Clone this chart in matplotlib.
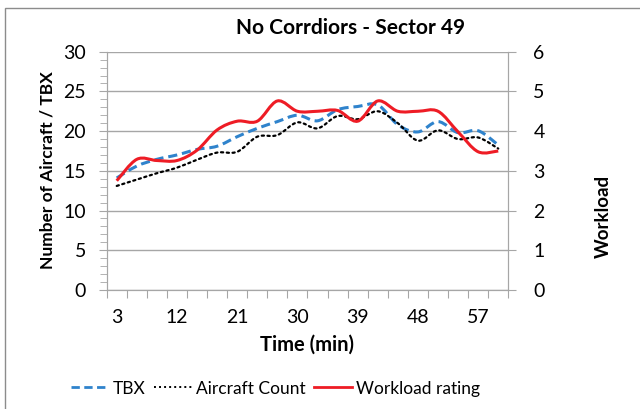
import numpy as np
import matplotlib
matplotlib.use('Agg')
import matplotlib.pyplot as plt
from matplotlib.path import Path
from matplotlib.patches import PathPatch, Rectangle
from matplotlib.lines import Line2D

plt.rcParams['font.family'] = ['Lato', 'DejaVu Sans']

# data (one point every 3 minutes)
minutes = list(range(3, 61, 3))
tbx = [14.1, 15.6, 16.45, 17.0, 17.7, 18.1, 19.3, 20.35, 21.2, 22.0,
       21.3, 22.7, 23.1, 23.3, 20.8, 19.9, 21.2, 19.8, 20.05, 18.25]
aircraft = [13.1, 13.9, 14.7, 15.4, 16.4, 17.3, 17.4, 19.3, 19.5, 21.1,
            20.35, 21.9, 21.5, 22.5, 21.0, 18.8, 20.1, 19.0, 19.2, 17.8]
workload = [2.75, 3.29, 3.26, 3.26, 3.52, 4.03, 4.25, 4.25, 4.76, 4.5,
            4.5, 4.52, 4.25, 4.76, 4.5, 4.5, 4.5, 3.98, 3.48, 3.5]

GRID = '#a6a6a6'


def smooth_path(xs, ys):
    # bezier through the data points, like excel's smoothed line
    pts = np.column_stack([xs, ys]).astype(float)
    n = len(pts)
    verts = [pts[0]]
    codes = [Path.MOVETO]
    for i in range(n - 1):
        p0 = pts[max(i - 1, 0)]
        p1 = pts[i]
        p2 = pts[i + 1]
        p3 = pts[min(i + 2, n - 1)]
        verts += [p1 + (p2 - p0) / 6, p2 - (p3 - p1) / 6, p2]
        codes += [Path.CURVE4] * 3
    return Path(verts, codes)


fig = plt.figure(figsize=(6.4, 4.09), dpi=100)
fig.patches.append(Rectangle((5 / 640, -0.1), 1.2, 1 - 8 / 409 + 0.1, transform=fig.transFigure,
                             fill=False, edgecolor='#8c8c8c', linewidth=1))

ax = fig.add_axes([0.1667, 0.291, 0.6275, 0.5826])
ax2 = ax.twinx()

x = np.arange(len(minutes))

ax.add_patch(PathPatch(smooth_path(x, tbx), fill=False, edgecolor='#2f83cc',
                       linewidth=2.2, linestyle=(0, (3, 1.6)), zorder=3))
ax.add_patch(PathPatch(smooth_path(x, aircraft), fill=False, edgecolor='black',
                       linewidth=1.6, linestyle=(0, (1, 1.6)), capstyle='round', zorder=3))
ax2.add_patch(PathPatch(smooth_path(x, workload), fill=False, edgecolor='#ee1c25',
                        linewidth=2.2, zorder=4))

ax.set_xlim(-0.5, len(minutes) - 0.5)
ax.set_ylim(0, 30)
ax2.set_ylim(0, 6)

ax.set_yticks(range(0, 31, 5))
ax.set_yticks(range(0, 31), minor=True)
ax.grid(axis='y', which='major', color=GRID, linewidth=1)
ax.set_axisbelow(True)

ax.set_xticks(np.arange(-0.5, len(minutes)))
ax.set_xticklabels([])
ax.set_xticks(x[::3], minor=True)
ax.set_xticklabels([str(m) for m in minutes[::3]], minor=True)
ax.tick_params(axis='x', which='major', length=6, color=GRID)
ax.tick_params(axis='x', which='minor', length=0, pad=14, labelsize=14)
ax.tick_params(axis='y', which='both', color=GRID, labelsize=14, pad=9)
ax.tick_params(axis='y', which='major', length=6)
ax.tick_params(axis='y', which='minor', length=5)

ax2.set_yticks(range(0, 7))
ax2.tick_params(axis='y', length=6, color=GRID, labelsize=14, pad=12)

for a in (ax, ax2):
    for s in a.spines.values():
        s.set_color(GRID)
    a.spines['top'].set_visible(False)

ax.set_xlabel('Time (min)', fontsize=14.5, fontweight='bold', labelpad=6)

fig.text(48 / 640, 1 - 170 / 409, 'Number of Aircraft / TBX', rotation=90,
         ha='center', va='center', fontsize=12.5, fontweight='bold')
fig.text(603 / 640, 1 - 216 / 409, 'Workload', rotation=90,
         ha='center', va='center', fontsize=13.5, fontweight='bold')
fig.text(351 / 640, 1 - 28 / 409, 'No Corrdiors - Sector 49', ha='center', va='center',
         fontsize=15, fontweight='bold')

handles = [Line2D([], [], color='#2f83cc', linewidth=2, linestyle=(0, (3, 1.6))),
           Line2D([], [], color='black', linewidth=1.4, linestyle=(0, (1, 1.6))),
           Line2D([], [], color='#ee1c25', linewidth=2)]
fig.legend(handles, ['TBX', 'Aircraft Count', 'Workload rating'], loc='center',
           bbox_to_anchor=(0.43, 0.05), ncol=3, frameon=False, fontsize=12.5,
           handlelength=2.2, handletextpad=0.2, columnspacing=0.5)

fig.savefig('out.png', dpi=100)
